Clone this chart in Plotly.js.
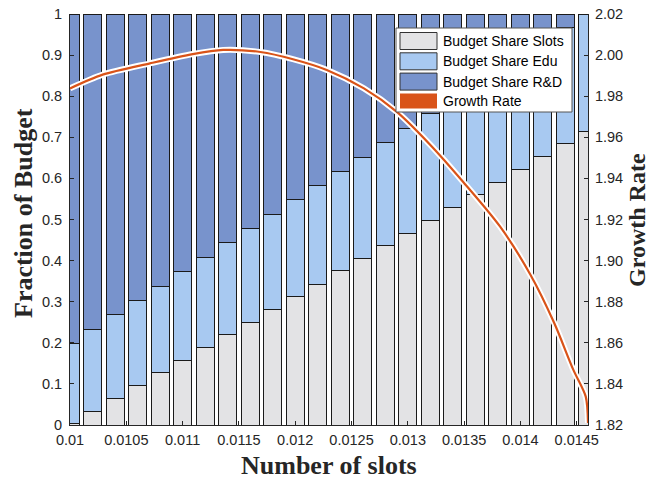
<!DOCTYPE html>
<html>
<head>
<meta charset="utf-8">
<script src="https://cdn.plot.ly/plotly-3.0.1.min.js"></script>
<style>
html,body{margin:0;padding:0;background:#fff;}
#chart{width:652px;height:482px;}
</style>
</head>
<body>
<div id="chart"></div>
<script>
// ---- data ----
const slotValues = [0.0100, 0.0102, 0.0104, 0.0106, 0.0108, 0.0110, 0.0112, 0.0114,
                    0.0116, 0.0118, 0.0120, 0.0122, 0.0124, 0.0126, 0.0128, 0.0130,
                    0.0132, 0.0134, 0.0136, 0.0138, 0.0140, 0.0142, 0.0144, 0.0146];
const shareSlots = [0.003, 0.034, 0.065, 0.096, 0.127, 0.158, 0.189, 0.220,
                    0.250, 0.281, 0.312, 0.343, 0.375, 0.406, 0.436, 0.467,
                    0.498, 0.529, 0.560, 0.591, 0.622, 0.653, 0.684, 0.715];
const shareEdu   = [0.196, 0.199, 0.203, 0.207, 0.211, 0.215, 0.219, 0.223,
                    0.228, 0.232, 0.236, 0.240, 0.242, 0.246, 0.251, 0.255,
                    0.259, 0.263, 0.267, 0.271, 0.275, 0.278, 0.282, 0.285];
const shareRD    = [0.801, 0.767, 0.732, 0.697, 0.662, 0.627, 0.592, 0.557,
                    0.522, 0.487, 0.452, 0.417, 0.383, 0.348, 0.313, 0.278,
                    0.243, 0.208, 0.173, 0.138, 0.103, 0.069, 0.034, 0.000];
const growthX    = [0.01000, 0.01029, 0.01071, 0.01109, 0.01136, 0.01169, 0.01198, 0.01228,
                    0.01261, 0.01290, 0.01320, 0.01349, 0.01382, 0.01409, 0.01430, 0.01447,
                    0.01458, 0.01460];
const growthRate = [1.9838, 1.9905, 1.9960, 2.0005, 2.0025, 2.0015, 1.9980, 1.9928,
                    1.9838, 1.9725, 1.9563, 1.9384, 1.9165, 1.8930, 1.8696, 1.8468,
                    1.8338, 1.8210];
const xTickVals  = [0.01, 0.0105, 0.011, 0.0115, 0.012, 0.0125, 0.013, 0.0135, 0.014, 0.0145];
const xTickText  = ['0.01', '0.0105', '0.011', '0.0115', '0.012', '0.0125', '0.013', '0.0135', '0.014', '0.0145'];
const yTickVals  = [0, 0.1, 0.2, 0.3, 0.4, 0.5, 0.6, 0.7, 0.8, 0.9, 1];
const yTickText  = ['0', '0.1', '0.2', '0.3', '0.4', '0.5', '0.6', '0.7', '0.8', '0.9', '1'];
const y2TickVals = [1.82, 1.84, 1.86, 1.88, 1.90, 1.92, 1.94, 1.96, 1.98, 2.00, 2.02];
const y2TickText = ['1.82', '1.84', '1.86', '1.88', '1.90', '1.92', '1.94', '1.96', '1.98', '2.00', '2.02'];
const seriesNames = ['Budget Share Slots', 'Budget Share Edu', 'Budget Share R&D', 'Growth Rate'];

// ---- styles ----
const C_SLOTS = '#e3e3e5', C_EDU = '#a8c9f1', C_RD = '#7893cc', C_GROWTH = '#d95319';
const EDGE = '#1a1a1a';
const TICKFONT = {family: '"Liberation Sans", Arial, sans-serif', size: 14.5, color: '#262626'};
const TITLEFONT = {family: '"Liberation Serif", "Times New Roman", serif', size: 26, color: '#262626'};

// plot area in pixels
const L = 70, R = 588, T = 14, B = 425, W = 652, H = 482;
const px = x => (x - L) / (R - L);
const py = y => (B - y) / (B - T);

const barWidth = 0.00016;
const traces = [
  {type: 'bar', x: slotValues, y: shareSlots, name: seriesNames[0], width: barWidth,
   marker: {color: C_SLOTS, line: {color: EDGE, width: 1}}, showlegend: false, hoverinfo: 'skip'},
  {type: 'bar', x: slotValues, y: shareEdu, name: seriesNames[1], width: barWidth,
   marker: {color: C_EDU, line: {color: EDGE, width: 1}}, showlegend: false, hoverinfo: 'skip'},
  {type: 'bar', x: slotValues, y: shareRD, name: seriesNames[2], width: barWidth,
   marker: {color: C_RD, line: {color: EDGE, width: 1}}, showlegend: false, hoverinfo: 'skip'},
  {type: 'scatter', mode: 'lines', x: growthX, y: growthRate, yaxis: 'y2', name: 'halo',
   line: {color: '#ffffff', width: 6, shape: 'spline', smoothing: 0.8}, showlegend: false, hoverinfo: 'skip', cliponaxis: true},
  {type: 'scatter', mode: 'lines', x: growthX, y: growthRate, yaxis: 'y2', name: seriesNames[3],
   line: {color: C_GROWTH, width: 2.2, shape: 'spline', smoothing: 0.8}, showlegend: false, hoverinfo: 'skip', cliponaxis: true}
];

// custom legend (box + swatches + labels)
const legBox = {x0: 396, x1: 572, y0: 28, y1: 112};
const rowsY = [41, 61.3, 81.6, 101];
const swatchColors = [C_SLOTS, C_EDU, C_RD, C_GROWTH];
const shapes = [
  {type: 'rect', xref: 'paper', yref: 'paper', layer: 'above',
   x0: px(legBox.x0), x1: px(legBox.x1), y0: py(legBox.y1), y1: py(legBox.y0),
   fillcolor: '#ffffff', line: {color: '#555555', width: 1}}
];
const annotations = [];
rowsY.forEach((ry, i) => {
  const isLine = i === 3;
  shapes.push({type: 'rect', xref: 'paper', yref: 'paper', layer: 'above',
    x0: px(400), x1: px(437), y0: py(ry + (isLine ? 7.5 : 8.5)), y1: py(ry - (isLine ? 7.5 : 8.5)),
    fillcolor: swatchColors[i], line: {color: isLine ? swatchColors[i] : '#333333', width: isLine ? 0 : 1}});
  annotations.push({xref: 'paper', yref: 'paper', x: px(440.5), y: py(ry), xanchor: 'left', yanchor: 'middle',
    text: seriesNames[i].replace('&', '&amp;'), showarrow: false,
    font: {family: '"Liberation Sans", Arial, sans-serif', size: 14, color: '#000000'}});
});
// axis titles
annotations.push({xref: 'paper', yref: 'paper', x: px(24), y: py(213), textangle: -90,
  text: '<b>Fraction of Budget</b>', showarrow: false, xanchor: 'center', yanchor: 'middle', font: TITLEFONT});
annotations.push({xref: 'paper', yref: 'paper', x: px(329), y: py(465),
  text: '<b>Number of slots</b>', showarrow: false, xanchor: 'center', yanchor: 'middle', font: TITLEFONT});
annotations.push({xref: 'paper', yref: 'paper', x: px(637), y: py(220), textangle: -90,
  text: '<b>Growth Rate</b>', showarrow: false, xanchor: 'center', yanchor: 'middle',
  font: {family: TITLEFONT.family, size: 24, color: TITLEFONT.color}});

const layout = {
  width: W, height: H,
  margin: {l: L, r: W - R, t: T, b: H - B, pad: 0},
  paper_bgcolor: '#ffffff', plot_bgcolor: '#ffffff',
  barmode: 'stack', bargap: 0.2,
  showlegend: false,
  xaxis: {range: [0.01, 0.0146], tickvals: xTickVals, ticktext: xTickText, ticks: 'inside', ticklen: 4,
          tickcolor: '#262626', showline: true, linecolor: '#262626', linewidth: 1, showgrid: false,
          zeroline: false, tickfont: TICKFONT, ticklabelstandoff: 2, fixedrange: true},
  yaxis: {range: [0, 1], tickvals: yTickVals, ticktext: yTickText, ticks: 'inside', ticklen: 4,
          tickcolor: '#262626', showline: true, linecolor: '#262626', linewidth: 1, showgrid: false,
          zeroline: false, tickfont: TICKFONT, ticklabelstandoff: 4, fixedrange: true},
  yaxis2: {range: [1.82, 2.02], tickvals: y2TickVals, ticktext: y2TickText, overlaying: 'y', side: 'right',
          ticks: 'inside', ticklen: 4, tickcolor: '#262626', showline: true, linecolor: '#262626', linewidth: 1,
          showgrid: false, zeroline: false, tickfont: TICKFONT, ticklabelstandoff: 3, fixedrange: true},
  shapes: shapes,
  annotations: annotations
};

Plotly.newPlot('chart', traces, layout, {displayModeBar: false, staticPlot: true});
</script>
</body>
</html>
